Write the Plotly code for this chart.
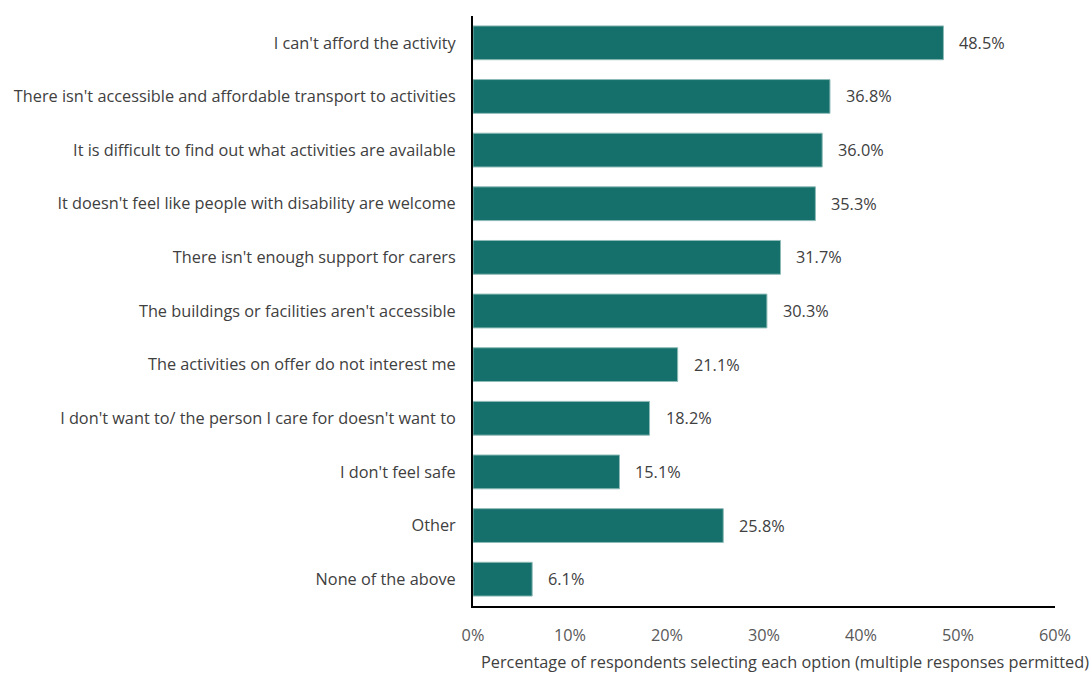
import plotly.graph_objects as go

categories = [
    "I can't afford the activity",
    "There isn't accessible and affordable transport to activities",
    "It is difficult to find out what activities are available",
    "It doesn't feel like people with disability are welcome",
    "There isn't enough support for carers",
    "The buildings or facilities aren't accessible",
    "The activities on offer do not interest me",
    "I don't want to/ the person I care for doesn't want to",
    "I don't feel safe",
    "Other",
    "None of the above",
]
values = [48.5, 36.8, 36.0, 35.3, 31.7, 30.3, 21.1, 18.2, 15.1, 25.8, 6.1]
tick_vals = [0, 10, 20, 30, 40, 50, 60]
tick_text = ["0%", "10%", "20%", "30%", "40%", "50%", "60%"]
x_title = "Percentage of respondents selecting each option (multiple responses permitted)"

FONT = "Open Sans"
SIZE = 16.3
BAR = "#15706B"

fig = go.Figure(
    go.Bar(
        x=values,
        y=categories,
        orientation="h",
        width=0.63,
        marker=dict(color=BAR, line=dict(color="#8DBAB6", width=1)),
        hoverinfo="x+y",
    )
)

# value labels to the right of each bar
for cat, v in zip(categories, values):
    fig.add_annotation(
        x=v, y=cat, xref="x", yref="y",
        text=f"{v:.1f}%", showarrow=False,
        xanchor="left", xshift=14,
        font=dict(family=FONT, size=SIZE, color="#404040"),
    )

fig.add_annotation(
    x=0.536, y=-0.095, xref="paper", yref="paper",
    text=x_title, showarrow=False, xanchor="center", yanchor="middle",
    font=dict(family=FONT, size=SIZE, color="#404040"),
)

fig.update_layout(
    width=1091, height=673,
    margin=dict(l=473, r=36, t=16, b=67),
    paper_bgcolor="white", plot_bgcolor="white",
    showlegend=False,
    font=dict(family=FONT, size=SIZE, color="#404040"),
    xaxis=dict(
        range=[0, 60], tickvals=tick_vals, ticktext=tick_text,
        showgrid=False, zeroline=False,
        showline=True, linecolor="black", linewidth=2,
        ticks="", ticklabelstandoff=13,
        tickfont=dict(family=FONT, size=SIZE, color="#595959"),
        fixedrange=True,
    ),
    yaxis=dict(
        autorange="reversed", categoryorder="array", categoryarray=categories,
        showgrid=False, zeroline=False,
        showline=True, linecolor="black", linewidth=2,
        ticks="", ticklabelstandoff=12,
        tickfont=dict(family=FONT, size=SIZE, color="#404040"),
        fixedrange=True,
    ),
)

fig.write_html("out.html")
